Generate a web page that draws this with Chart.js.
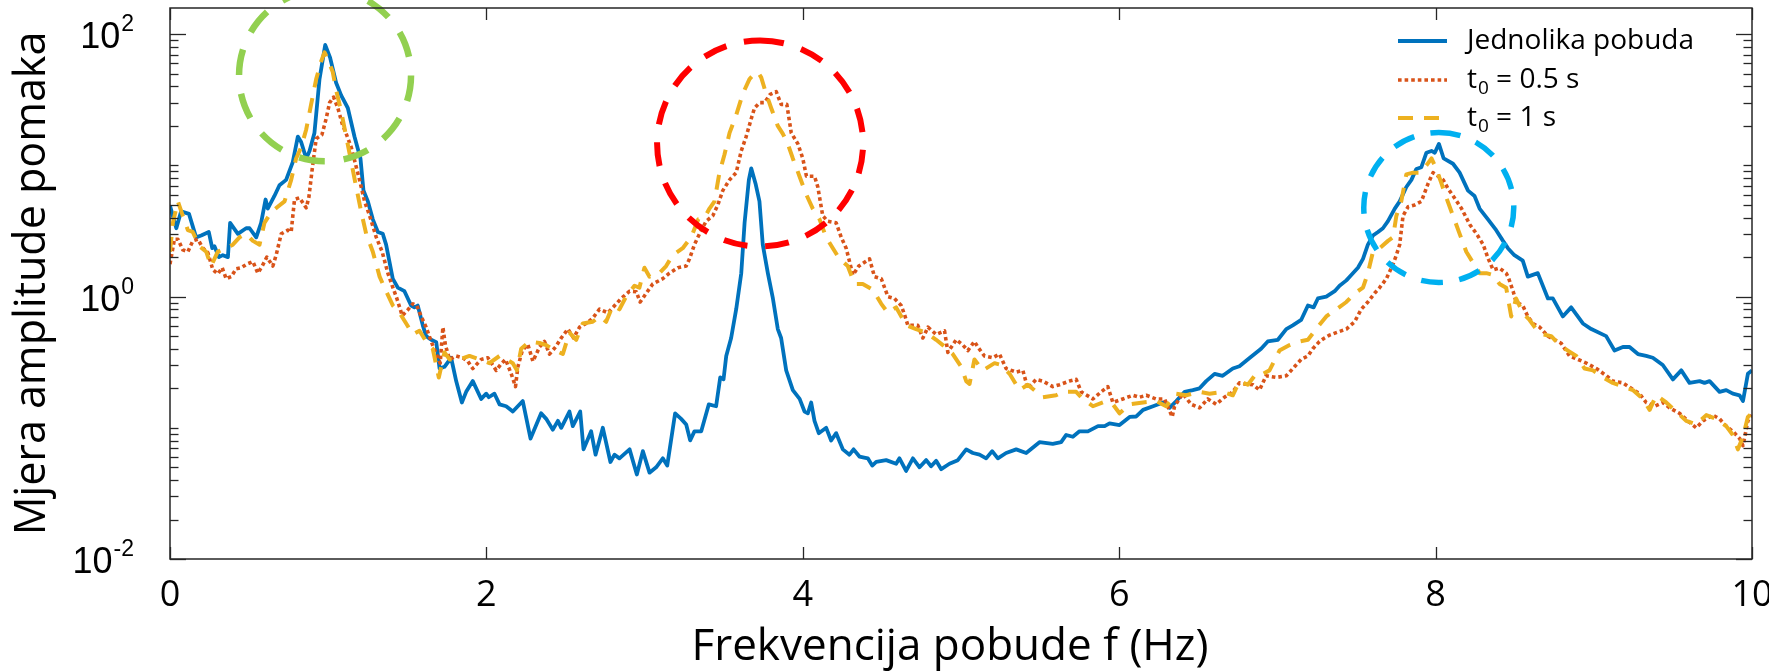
<!DOCTYPE html>
<html>
<head>
<meta charset="utf-8">
<title>Mjera amplitude pomaka</title>
<script src="https://cdn.jsdelivr.net/npm/chart.js@4.4.1/dist/chart.umd.min.js"></script>
<style>
  html, body { margin: 0; padding: 0; background: #ffffff; }
  #wrap { width: 1769px; height: 672px; }
</style>
</head>
<body>
<div id="wrap"><canvas id="chart" width="1769" height="672"></canvas></div>
<script>
// Frequency response: uniform excitation vs. delayed excitation (t0 = 0.5 s, t0 = 1 s)

const freqUniform = [0.00,0.04,0.07,0.12,0.165,0.197,0.245,0.267,0.281,0.309,0.334,0.366,0.38,0.429,0.481,0.503,0.545,0.576,0.604,0.618,0.66,0.692,0.734,0.776,0.808,0.829,0.861,0.882,0.913,0.945,0.981,1.012,1.05,1.082,1.124,1.166,1.204,1.223,1.251,1.282,1.314,1.345,1.366,1.408,1.44,1.482,1.524,1.545,1.566,1.598,1.619,1.651,1.683,1.704,1.735,1.777,1.809,1.845,1.872,1.914,1.967,1.999,2.015,2.051,2.083,2.125,2.167,2.23,2.279,2.346,2.378,2.42,2.452,2.473,2.525,2.546,2.593,2.614,2.662,2.69,2.736,2.784,2.81,2.841,2.905,2.951,2.989,3.031,3.073,3.115,3.143,3.193,3.231,3.263,3.288,3.315,3.358,3.406,3.452,3.478,3.499,3.516,3.547,3.579,3.611,3.632,3.659,3.674,3.701,3.726,3.747,3.779,3.811,3.842,3.863,3.895,3.937,3.98,4.011,4.032,4.053,4.074,4.101,4.148,4.179,4.211,4.253,4.295,4.321,4.358,4.411,4.439,4.464,4.527,4.59,4.611,4.653,4.696,4.738,4.78,4.811,4.843,4.875,4.927,4.98,5.033,5.075,5.117,5.159,5.197,5.233,5.285,5.349,5.412,5.496,5.58,5.633,5.665,5.707,5.749,5.802,5.866,5.908,5.939,6.002,6.066,6.108,6.151,6.214,6.277,6.318,6.361,6.414,6.465,6.508,6.55,6.603,6.654,6.718,6.76,6.824,6.897,6.939,7.003,7.056,7.097,7.15,7.193,7.229,7.256,7.309,7.362,7.393,7.436,7.467,7.509,7.541,7.572,7.604,7.636,7.667,7.699,7.742,7.773,7.815,7.847,7.878,7.91,7.942,7.974,7.995,8.021,8.051,8.11,8.152,8.205,8.246,8.278,8.331,8.383,8.426,8.457,8.498,8.551,8.583,8.646,8.71,8.741,8.804,8.857,8.931,8.984,9.078,9.131,9.184,9.226,9.279,9.331,9.373,9.436,9.5,9.553,9.605,9.669,9.7,9.732,9.795,9.837,9.879,9.921,9.943,9.974,10.0];
const ampUniform = [4.93,3.32,4.46,4.27,2.83,2.92,3.11,2.34,2.42,2.0,2.07,2.0,3.65,3.01,3.32,3.32,2.83,3.65,5.5,4.69,5.85,7.06,7.76,10.6,16.6,15.1,11.3,12.9,17.7,45.5,82.8,66.4,42.7,34.2,27.4,16.6,11.3,6.43,5.32,3.88,3.11,3.01,2.49,1.37,1.17,1.1,0.855,0.828,0.855,0.604,0.5,0.469,0.45,0.283,0.292,0.342,0.227,0.156,0.188,0.227,0.166,0.182,0.171,0.182,0.151,0.146,0.133,0.16,0.0828,0.129,0.117,0.0968,0.113,0.1,0.133,0.103,0.133,0.0685,0.094,0.0624,0.1,0.0549,0.0624,0.0585,0.0685,0.0441,0.0664,0.0455,0.05,0.0585,0.0515,0.129,0.117,0.106,0.0802,0.094,0.094,0.151,0.146,0.242,0.234,0.353,0.484,0.802,1.51,3.65,7.76,9.5,7.29,5.32,2.49,1.51,0.968,0.566,0.484,0.274,0.194,0.166,0.133,0.129,0.156,0.113,0.091,0.1,0.08,0.091,0.0685,0.0624,0.0685,0.0604,0.0585,0.0515,0.0549,0.0567,0.0532,0.0585,0.0469,0.0585,0.05,0.0567,0.0509,0.056,0.0484,0.0532,0.0567,0.0685,0.0643,0.0624,0.0585,0.0664,0.0585,0.0643,0.0685,0.0643,0.0777,0.0753,0.0777,0.0882,0.0855,0.094,0.094,0.103,0.103,0.108,0.105,0.121,0.122,0.137,0.146,0.156,0.142,0.16,0.188,0.194,0.2,0.227,0.258,0.249,0.283,0.295,0.34,0.401,0.455,0.469,0.566,0.604,0.664,0.855,0.828,0.968,1.0,1.1,1.21,1.33,1.46,1.66,1.94,2.49,2.92,3.11,3.32,3.76,4.69,5.32,6.85,7.76,9.4,9.69,12.5,12.9,12.5,14.6,11.3,10.3,8.81,6.43,5.85,4.69,3.88,3.21,2.66,2.34,2.07,1.88,1.42,1.51,0.968,0.97,0.706,0.828,0.624,0.566,0.5,0.388,0.413,0.413,0.365,0.353,0.342,0.301,0.234,0.274,0.22,0.227,0.22,0.227,0.188,0.194,0.182,0.177,0.16,0.258,0.274];

const freqT05 = [0.0,0.028,0.05,0.081,0.113,0.144,0.176,0.208,0.239,0.271,0.302,0.33,0.355,0.387,0.418,0.45,0.486,0.524,0.555,0.583,0.612,0.65,0.671,0.703,0.745,0.766,0.787,0.819,0.861,0.878,0.899,0.924,0.96,0.987,1.009,1.034,1.061,1.089,1.114,1.146,1.198,1.23,1.262,1.304,1.341,1.377,1.409,1.434,1.468,1.503,1.535,1.56,1.588,1.619,1.651,1.683,1.708,1.725,1.741,1.767,1.809,1.851,1.883,1.914,1.967,2.009,2.062,2.093,2.121,2.157,2.184,2.199,2.227,2.262,2.294,2.336,2.367,2.399,2.437,2.473,2.515,2.551,2.589,2.63,2.672,2.715,2.768,2.821,2.852,2.905,2.947,2.972,3.01,3.052,3.115,3.157,3.21,3.263,3.284,3.315,3.347,3.389,3.431,3.463,3.494,3.537,3.579,3.611,3.642,3.674,3.695,3.727,3.758,3.794,3.832,3.863,3.899,3.927,3.969,4.0,4.023,4.074,4.095,4.126,4.158,4.211,4.243,4.274,4.317,4.354,4.422,4.453,4.496,4.538,4.579,4.622,4.643,4.664,4.727,4.759,4.791,4.843,4.896,4.917,4.97,5.012,5.043,5.085,5.106,5.148,5.201,5.243,5.285,5.349,5.391,5.422,5.475,5.517,5.58,5.623,5.686,5.728,5.76,5.834,5.886,5.928,5.96,6.023,6.087,6.128,6.171,6.233,6.287,6.335,6.35,6.402,6.455,6.508,6.56,6.613,6.665,6.718,6.76,6.802,6.845,6.887,6.929,6.993,7.056,7.108,7.15,7.193,7.224,7.266,7.298,7.33,7.372,7.436,7.488,7.53,7.572,7.614,7.646,7.689,7.731,7.752,7.773,7.794,7.826,7.868,7.91,7.953,7.984,8.016,8.048,8.079,8.111,8.164,8.217,8.259,8.301,8.333,8.364,8.404,8.446,8.46,8.49,8.509,8.551,8.583,8.615,8.658,8.71,8.752,8.794,8.847,8.9,8.953,9.016,9.08,9.12,9.184,9.236,9.289,9.331,9.384,9.436,9.479,9.542,9.605,9.648,9.69,9.753,9.795,9.837,9.879,9.922,9.943,9.974,10.0];
const ampT05 = [1.77,2.74,2.74,2.27,2.2,2.66,2.74,2.34,2.17,1.6,1.49,1.66,1.37,1.42,1.63,1.66,1.77,1.85,1.51,1.71,2.0,1.71,2.07,3.01,3.21,3.11,5.5,5.67,4.75,5.74,9.4,16.0,17.1,22.7,30.1,33.2,27.4,20.7,17.4,13.7,7.76,5.32,4.13,2.83,2.2,1.51,1.17,0.968,0.716,0.792,0.881,0.855,0.706,0.585,0.455,0.365,0.311,0.585,0.427,0.332,0.353,0.342,0.321,0.283,0.332,0.342,0.274,0.307,0.332,0.258,0.206,0.292,0.388,0.432,0.321,0.413,0.455,0.365,0.413,0.484,0.566,0.484,0.585,0.624,0.685,0.802,0.753,0.881,0.968,1.1,1.09,0.91,1.06,1.25,1.37,1.51,1.66,1.71,1.94,2.49,3.01,3.76,4.13,5.0,6.43,7.76,8.81,12.9,16.6,22.7,27.4,30.1,30.1,34.8,36.5,29.2,29.2,17.7,14.6,11.3,8.28,8.28,6.85,4.13,3.76,3.65,2.83,2.34,1.46,1.71,1.94,1.42,1.37,1.0,0.968,0.855,0.73,0.604,0.604,0.484,0.585,0.515,0.549,0.376,0.469,0.427,0.388,0.455,0.413,0.353,0.342,0.365,0.283,0.266,0.274,0.2,0.234,0.227,0.206,0.213,0.227,0.234,0.188,0.166,0.188,0.206,0.156,0.166,0.177,0.171,0.177,0.166,0.166,0.121,0.146,0.182,0.151,0.142,0.166,0.151,0.171,0.188,0.22,0.215,0.213,0.194,0.249,0.242,0.249,0.292,0.332,0.353,0.401,0.455,0.484,0.509,0.532,0.566,0.643,0.802,0.91,1.06,1.17,1.37,1.77,2.07,2.49,4.13,4.84,5.0,5.32,7.29,8.81,8.28,7.76,6.64,5.85,4.69,3.53,3.01,2.49,1.94,1.6,1.65,1.51,1.4,1.1,0.91,0.855,0.706,0.624,0.585,0.5,0.469,0.441,0.353,0.332,0.311,0.283,0.249,0.227,0.22,0.2,0.182,0.156,0.146,0.156,0.142,0.129,0.11,0.1,0.113,0.125,0.117,0.103,0.094,0.0828,0.073,0.113,0.125];

const freqT1 = [0.0,0.018,0.05,0.081,0.113,0.144,0.186,0.229,0.26,0.302,0.355,0.397,0.439,0.481,0.524,0.566,0.597,0.64,0.681,0.724,0.766,0.797,0.829,0.861,0.892,0.924,0.956,0.977,0.998,1.029,1.05,1.082,1.114,1.146,1.177,1.209,1.24,1.282,1.325,1.366,1.409,1.451,1.493,1.535,1.577,1.619,1.661,1.699,1.735,1.767,1.83,1.893,1.956,2.019,2.083,2.125,2.167,2.193,2.22,2.273,2.336,2.378,2.43,2.483,2.525,2.568,2.609,2.672,2.715,2.757,2.799,2.841,2.883,2.936,2.967,2.999,3.031,3.094,3.136,3.178,3.241,3.294,3.34,3.379,3.41,3.442,3.473,3.505,3.537,3.579,3.621,3.663,3.695,3.716,3.737,3.768,3.8,3.842,3.874,3.905,3.937,3.979,4.021,4.063,4.106,4.148,4.19,4.232,4.284,4.327,4.379,4.443,4.496,4.538,4.59,4.654,4.716,4.78,4.843,4.885,4.948,5.001,5.033,5.054,5.085,5.138,5.212,5.254,5.307,5.37,5.422,5.517,5.601,5.644,5.728,5.77,5.834,5.897,5.96,6.002,6.066,6.151,6.233,6.297,6.361,6.424,6.508,6.571,6.656,6.718,6.76,6.813,6.866,6.908,6.95,7.013,7.077,7.14,7.193,7.245,7.309,7.372,7.436,7.488,7.541,7.572,7.604,7.646,7.699,7.731,7.752,7.783,7.815,7.857,7.9,7.942,7.974,8.005,8.037,8.068,8.11,8.152,8.194,8.236,8.278,8.321,8.364,8.404,8.446,8.478,8.509,8.551,8.594,8.636,8.678,8.731,8.784,8.836,8.889,8.942,8.995,9.058,9.12,9.184,9.247,9.31,9.353,9.395,9.458,9.521,9.584,9.648,9.711,9.775,9.837,9.879,9.911,9.943,9.974,10.0];
const ampT1 = [2.2,3.65,5.32,4.13,3.21,3.11,2.42,2.2,1.71,2.2,2.34,2.49,2.83,3.01,2.66,2.49,3.65,4.41,4.84,5.32,7.76,11.3,13.7,18.8,29.2,45.5,62.4,72.9,64.3,51.5,37.6,25.8,16.6,10.6,6.85,4.41,3.01,2.2,1.42,1.1,0.855,0.753,0.624,0.515,0.549,0.455,0.4,0.242,0.376,0.332,0.332,0.353,0.332,0.311,0.353,0.332,0.311,0.274,0.401,0.455,0.443,0.427,0.39,0.365,0.532,0.469,0.624,0.643,0.706,0.643,0.855,0.8,1.0,1.21,1.17,1.66,1.42,1.51,1.71,2.07,2.34,2.83,3.9,4.0,4.69,5.32,8.81,12.1,17.7,24.2,35.3,45.5,50.0,51.5,46.9,35.3,27.4,20.0,17.4,14.6,11.3,8.28,6.04,4.69,3.88,2.83,2.34,1.94,1.71,1.25,1.25,1.13,0.881,0.753,0.828,0.604,0.566,0.532,0.469,0.427,0.365,0.292,0.227,0.216,0.332,0.274,0.311,0.301,0.258,0.194,0.213,0.171,0.177,0.188,0.188,0.166,0.146,0.156,0.151,0.129,0.151,0.156,0.16,0.146,0.182,0.177,0.188,0.182,0.188,0.177,0.227,0.213,0.258,0.258,0.274,0.388,0.427,0.455,0.469,0.566,0.706,0.8,0.91,1.06,1.17,1.51,2.2,2.34,2.66,2.83,4.13,5.32,8.55,8.81,8.81,10.0,11.3,9.4,7.29,5.67,4.13,3.01,2.2,1.82,1.51,1.51,1.46,1.25,1.17,0.706,0.968,0.753,0.664,0.566,0.515,0.5,0.427,0.388,0.353,0.283,0.274,0.242,0.22,0.206,0.194,0.166,0.137,0.177,0.156,0.133,0.113,0.106,0.125,0.117,0.103,0.0882,0.0685,0.0855,0.121,0.129];

const xTickValues = [0, 2, 4, 6, 8, 10];
const yLabelExponents = [-2, 0, 2];
const seriesLabels = ['Jednolika pobuda', 't\u2080 = 0.5 s', 't\u2080 = 1 s'];
const xAxisTitle = 'Frekvencija pobude f (Hz)';
// legend text pieces: base, subscript, rest
const legendParts = [['Jednolika pobuda', '', ''], ['t', '0', ' = 0.5 s'], ['t', '0', ' = 1 s']];
// highlighted resonance regions: centre frequency, centre amplitude
const highlightFreq = [0.98, 3.73, 8.02];
const highlightAmp = [48.6, 14.7, 4.78];

const toPoints = (fs, vs) => fs.map((f, i) => ({ x: f, y: vs[i] }));

const FONT = '"Open Sans", Lato, sans-serif';
const AXIS_COLOR = '#262626';

const axesDecor = {
  id: 'axesDecor',
  afterDatasetsDraw(chart, args, opts) {
    const { ctx, scales: { x, y } } = chart;
    ctx.save();
    opts.circles.forEach((c, i) => {
      const cx = x.getPixelForValue(highlightFreq[i]);
      const cy = y.getPixelForValue(highlightAmp[i]);
      ctx.beginPath();
      ctx.setLineDash(c.dash);
      ctx.lineWidth = c.width;
      ctx.strokeStyle = c.color;
      ctx.lineCap = 'butt';
      ctx.arc(cx, cy, c.radius, -Math.PI / 2, Math.PI * 1.5);
      ctx.stroke();
    });
    ctx.restore();
  },
  afterDraw(chart) {
    const { ctx, chartArea: a, scales: { x, y } } = chart;
    ctx.save();
    ctx.strokeStyle = AXIS_COLOR;
    ctx.lineWidth = 1.5;
    ctx.setLineDash([]);
    ctx.strokeRect(a.left, a.top, a.right - a.left, a.bottom - a.top);

    const seg = (x1, y1, x2, y2) => { ctx.beginPath(); ctx.moveTo(x1, y1); ctx.lineTo(x2, y2); ctx.stroke(); };
    ctx.lineWidth = 1.3;
    // x ticks, inward on bottom and top
    xTickValues.forEach(v => {
      const px = Math.round(x.getPixelForValue(v)) + 0.5;
      seg(px, a.bottom, px, a.bottom - 12);
      seg(px, a.top, px, a.top + 12);
    });
    // y ticks: majors at labelled decades, minors elsewhere
    for (let e = -2; e <= 2; e++) {
      for (let m = 1; m <= 9; m++) {
        const v = m * Math.pow(10, e);
        if (v < y.min || v > y.max) continue;
        const py = Math.round(y.getPixelForValue(v)) + 0.5;
        const major = m === 1 && yLabelExponents.includes(e);
        const len = major ? 16 : 8.5;
        seg(a.left, py, a.left + len, py);
        seg(a.right, py, a.right - len, py);
      }
    }
    // y tick labels 10^n
    ctx.fillStyle = '#000';
    ctx.textBaseline = 'alphabetic';
    yLabelExponents.forEach(e => {
      const py = y.getPixelForValue(Math.pow(10, e));
      const exp = String(e);
      ctx.font = '23px "Liberation Sans", Arial, sans-serif';
      const ew = ctx.measureText(exp).width;
      ctx.textAlign = 'right';
      ctx.fillText(exp, 134, py - 3);
      ctx.font = '36px "Liberation Sans", Arial, sans-serif';
      ctx.fillText('10', 134 - ew - 1, py + 14);
    });

    // x axis title, centred slightly left of the plot centre
    ctx.font = '44px ' + FONT;
    ctx.textAlign = 'center';
    ctx.textBaseline = 'alphabetic';
    ctx.fillText(xAxisTitle, x.getPixelForValue(4.93), 660);

    // legend
    const rows = [41, 80, 118];
    chart.data.datasets.forEach((ds, i) => {
      const ly = rows[i];
      ctx.beginPath();
      ctx.strokeStyle = ds.borderColor;
      ctx.lineWidth = ds.borderWidth;
      ctx.setLineDash(ds.borderDash || []);
      ctx.moveTo(1398, ly);
      ctx.lineTo(1447, ly);
      ctx.stroke();
      ctx.setLineDash([]);
      const [base, sub, rest] = legendParts[i];
      ctx.fillStyle = '#000';
      ctx.textAlign = 'left';
      ctx.textBaseline = 'middle';
      ctx.font = '28px ' + FONT;
      let tx = 1467;
      ctx.fillText(base, tx, ly);
      tx += ctx.measureText(base).width;
      if (sub) {
        ctx.font = '19px ' + FONT;
        ctx.fillText(sub, tx + 1, ly + 9);
        tx += ctx.measureText(sub).width + 1;
        ctx.font = '28px ' + FONT;
        ctx.fillText(rest, tx, ly);
      }
    });
    ctx.restore();
  }
};

new Chart(document.getElementById('chart'), {
  type: 'line',
  data: {
    datasets: [
      { label: seriesLabels[0], data: toPoints(freqUniform, ampUniform), borderColor: '#0072BD', borderWidth: 3.8, borderDash: [], order: 3 },
      { label: seriesLabels[1], data: toPoints(freqT05, ampT05), borderColor: '#D95319', borderWidth: 3.6, borderDash: [3.6, 3], order: 2 },
      { label: seriesLabels[2], data: toPoints(freqT1, ampT1), borderColor: '#EDB120', borderWidth: 4, borderDash: [15, 11], order: 1 }
    ]
  },
  options: {
    responsive: false,
    animation: false,
    devicePixelRatio: 1,
    layout: { padding: { top: 8, right: 17, left: 0, bottom: 0 } },
    elements: {
      point: { radius: 0, hoverRadius: 0 },
      line: { tension: 0, fill: false, borderJoinStyle: 'round' }
    },
    plugins: {
      legend: { display: false },
      tooltip: { enabled: false },
      axesDecor: {
        circles: [
          { color: '#92D050', width: 6.5, radius: 86, dash: [26, 19] },
          { color: '#FF0000', width: 6, radius: 103, dash: [24, 18] },
          { color: '#00B0F0', width: 5.5, radius: 75, dash: [22, 16.5] }
        ]
      }
    },
    scales: {
      x: {
        type: 'linear',
        min: 0, max: 10,
        afterBuildTicks: (s) => { s.ticks = xTickValues.map(v => ({ value: v })); },
        ticks: { color: '#000', font: { family: FONT, size: 36 }, padding: 7, maxRotation: 0, autoSkip: false },
        grid: { display: false },
        border: { display: false },
        title: { display: false },
        afterFit: (s) => { s.height = 113; s.paddingLeft = 0; s.paddingRight = 0; }
      },
      y: {
        type: 'logarithmic',
        min: 0.01, max: 158.5,
        ticks: { display: false },
        grid: { display: false },
        border: { display: false },
        title: { display: true, text: 'Mjera amplitude pomaka', color: '#000', font: { family: FONT, size: 43, lineHeight: 1 }, padding: { top: 11, bottom: 0 } },
        afterFit: (s) => { s.width = 170; }
      }
    }
  },
  plugins: [axesDecor]
});
</script>
</body>
</html>
